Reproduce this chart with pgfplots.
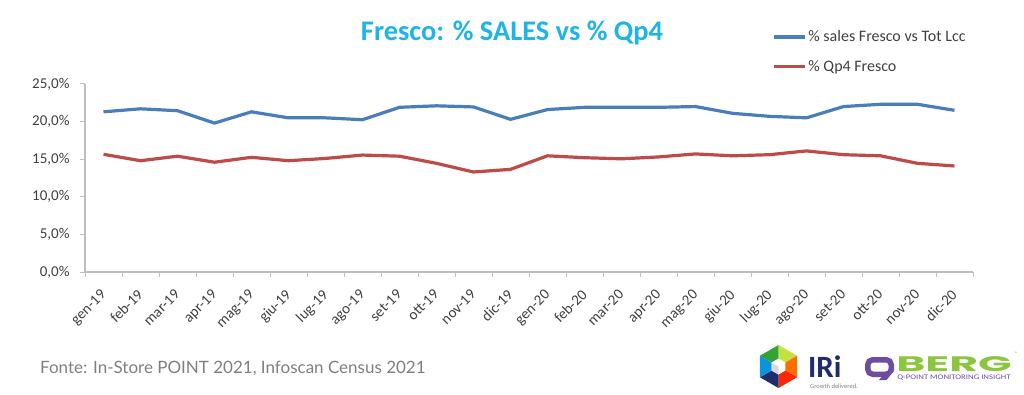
\documentclass[border=0pt]{standalone}
\usepackage{pgfplots}
\pgfplotsset{compat=1.18}
\usepackage{fontspec}
\setmainfont{Carlito}
\newfontfamily\latofont{Lato}
\newfontfamily\popfont{Poppins}
\definecolor{sblue}{HTML}{4A7EBB}
\definecolor{sred}{HTML}{BE4B48}
\definecolor{ttl}{HTML}{1DB4EA}
\definecolor{axgrey}{HTML}{BFBFBF}
\definecolor{lbl}{HTML}{404040}
\definecolor{src}{HTML}{7F7F7F}
\definecolor{qpurple}{HTML}{6E4C9E}
\definecolor{qgreen}{HTML}{8CC63F}
\definecolor{irinavy}{HTML}{1F2D6E}
\begin{document}
\begin{tikzpicture}[x=1pt,y=1pt]
\useasboundingbox (0,0) rectangle (1024,394);
\begin{axis}[at={(85pt,122pt)}, anchor=south west, scale only axis,
  width=888pt, height=188pt,
  xmin=-0.5, xmax=23.5, ymin=0, ymax=25,
  axis x line*=bottom, axis y line*=left,
  axis line style={axgrey, line width=1.2pt},
  tick style={axgrey, line width=1pt},
  tick align=outside,
  major tick length=5pt,
  xtick={0,...,23},
  xticklabels={gen-19,feb-19,mar-19,apr-19,mag-19,giu-19,lug-19,ago-19,set-19,ott-19,nov-19,dic-19,gen-20,feb-20,mar-20,apr-20,mag-20,giu-20,lug-20,ago-20,set-20,ott-20,nov-20,dic-20},
  major x tick style={draw=none},
  minor xtick={-0.5,0.5,...,23.5},
  minor tick length=5pt,
  ytick={0,5,10,15,20,25},
  yticklabels={{0,0\%},{5,0\%},{10,0\%},{15,0\%},{20,0\%},{25,0\%}},
  yticklabel style={font=\fontsize{15}{17}\selectfont, text=lbl, xshift=-7pt},
  xticklabel style={xshift=-4pt, yshift=-10pt, font=\fontsize{15}{17}\selectfont, text=lbl, rotate=45, anchor=north east, inner sep=1pt},
  legend style={at={(0.7703,1.295)}, anchor=north west, draw=none, fill=none,
    font=\fontsize{16}{18}\selectfont, text=lbl, row sep=13pt,
    legend cell align=left, inner ysep=0pt},
  legend image code/.code={\draw[#1, line width=3.2pt] (0pt,0pt) -- (31pt,0pt);},
]
\addplot[sblue, line width=3.2pt] coordinates {
(0,21.3)(1,21.7)(2,21.45)(3,19.8)(4,21.3)(5,20.5)(6,20.5)(7,20.25)(8,21.9)(9,22.1)(10,21.95)(11,20.3)
(12,21.6)(13,21.9)(14,21.9)(15,21.9)(16,22.0)(17,21.1)(18,20.7)(19,20.5)(20,22.0)(21,22.3)(22,22.3)(23,21.5)};
\addlegendentry{\% sales Fresco vs Tot Lcc}
\addplot[sred, line width=3.2pt] coordinates {
(0,15.65)(1,14.8)(2,15.4)(3,14.6)(4,15.25)(5,14.8)(6,15.1)(7,15.55)(8,15.4)(9,14.45)(10,13.3)(11,13.65)
(12,15.45)(13,15.2)(14,15.05)(15,15.3)(16,15.7)(17,15.45)(18,15.6)(19,16.1)(20,15.6)(21,15.45)(22,14.45)(23,14.1)};
\addlegendentry{\% Qp4 Fresco}
\end{axis}
\node[text=ttl, font=\fontsize{28.4}{31}\selectfont\bfseries] at (512,361) {Fresco: \% SALES vs \% Qp4};
\node[anchor=west, text=src, font=\latofont\fontsize{17}{20}\selectfont, inner sep=0pt] at (40,26) {Fonte: In-Store POINT 2021, Infoscan Census 2021};
% IRi logo
\begin{scope}[shift={(778.5,27.5)}]
\def\r{21.5}
\fill[green!55!black!80] (0,0) -- (90:\r) -- (150:\r) -- cycle;
\fill[yellow!70!green!80] (0,0) -- (30:\r) -- (90:\r) -- cycle;
\fill[orange!85!red] (0,0) -- (-30:\r) -- (30:\r) -- cycle;
\fill[red!70!orange] (0,0) -- (-90:\r) -- (-30:\r) -- cycle;
\fill[irinavy] (0,0) -- (-150:\r) -- (-90:\r) -- cycle;
\fill[cyan!80!blue] (0,0) -- (150:\r) -- (210:\r) -- cycle;
\fill[white] (90:8) -- (30:8) -- (-30:8) -- (-90:8) -- (-150:8) -- (150:8) -- cycle;
\fill[gray!30] (0,0) -- (-90:8) -- (-150:8) -- (150:8) -- cycle;
\end{scope}
\node[anchor=west, text=irinavy, font=\fontsize{31}{32}\selectfont\bfseries, inner sep=0pt] at (808,27) {IRi};
\node[anchor=west, text=gray, font=\fontsize{6.5}{7}\selectfont, inner sep=0pt] at (810,8) {Growth delivered.};
% QBERG logo
\draw[qpurple, line width=5.5pt, rounded corners=5pt] (867.75,19.75) rectangle (891.25,34.25);
\fill[white] (880,13) -- (888,13) -- (896,22) -- (888,22) -- cycle;
\fill[qpurple] (879,14) -- (886.5,14) -- (894,23) -- (886.5,23) -- cycle;
\node[anchor=west, text=qgreen, font=\popfont\fontsize{21}{22}\selectfont\bfseries, inner sep=0pt, xscale=2.1] at (896,29.5) {BERG};
\node[anchor=west, text=qpurple, font=\fontsize{7}{8}\selectfont, inner sep=0pt, xscale=1.25] at (897,16) {Q-POINT MONITORING INSIGHT};
\node[anchor=west, text=gray, font=\fontsize{5}{6}\selectfont, inner sep=0pt] at (1015,40) {®};
\end{tikzpicture}
\end{document}
